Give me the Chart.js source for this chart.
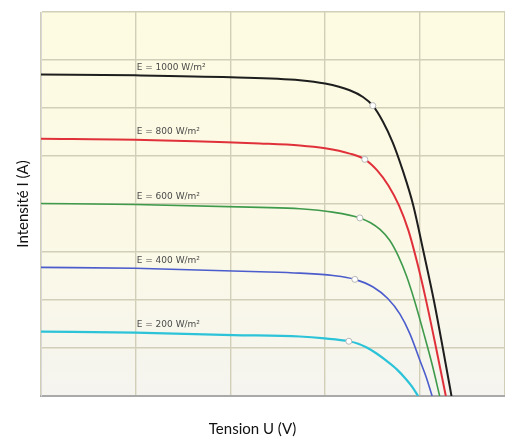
<!DOCTYPE html>
<html>
<head>
<meta charset="utf-8">
<script src="https://cdn.jsdelivr.net/npm/chart.js@4"></script>
<style>
  html, body { margin: 0; padding: 0; background: #fff; }
  #wrap { width: 505px; height: 441px; }
</style>
</head>
<body>
<div id="wrap"><canvas id="ivChart"></canvas></div>
<script>
// irradiance labels
const labels = ["E = 1000 W/m²", "E = 800 W/m²", "E = 600 W/m²", "E = 400 W/m²", "E = 200 W/m²"];

// I-V curves (U in V, I in A)
const u1000 = [0, 9.92, 20.05, 27.34, 30.0, 32.6, 34.0, 35.04, 36.1, 37.15, 38.2, 39.3, 40.4, 41.5, 42.45, 43.35];
const i1000 = [6.70, 6.68, 6.64, 6.58, 6.51, 6.37, 6.23, 6.05, 5.72, 5.28, 4.70, 3.98, 3.0, 1.98, 0.98, 0.0];
const u800 = [0, 9.92, 23.11, 27.34, 30.0, 32.6, 34.19, 35.5, 36.7, 37.8, 38.8, 39.7, 40.6, 41.6, 42.75];
const i800 = [5.36, 5.34, 5.26, 5.22, 5.16, 5.05, 4.93, 4.70, 4.38, 3.97, 3.45, 2.80, 2.05, 1.12, 0.0];
const u600 = [0, 9.92, 23.11, 27.34, 30.8, 33.67, 34.8, 35.8, 36.8, 37.7, 38.6, 39.5, 40.4, 41.3, 42.1];
const i600 = [4.01, 3.99, 3.93, 3.90, 3.83, 3.71, 3.61, 3.47, 3.25, 2.93, 2.50, 1.95, 1.32, 0.66, 0.0];
const u400 = [0, 9.92, 23.11, 27.34, 30.82, 33.14, 35.07, 36.62, 37.89, 38.95, 40.0, 40.7, 41.3];
const i400 = [2.68, 2.66, 2.59, 2.56, 2.51, 2.43, 2.27, 2.03, 1.71, 1.30, 0.75, 0.38, 0.0];
const u200 = [0, 9.92, 20.26, 27.34, 29.97, 32.51, 33.5, 34.4, 35.4, 36.5, 37.6, 38.6, 39.2, 39.82];
const i200 = [1.34, 1.32, 1.27, 1.24, 1.20, 1.14, 1.09, 1.01, 0.89, 0.73, 0.55, 0.34, 0.19, 0.0];

// maximum power points
const mppU = [35.04, 34.19, 33.67, 33.14, 32.51];
const mppI = [6.05, 4.93, 3.71, 2.43, 1.14];

const colors = ["#1e1e1e", "#e0313b", "#3f9a4c", "#4b5ccc", "#2cc3d9"];
const widths = [2, 2, 1.6, 1.6, 2.2];

const curves = [[u1000, i1000], [u800, i800], [u600, i600], [u400, i400], [u200, i200]];

const datasets = curves.map(([u, i], k) => ({
  label: labels[k],
  data: u.map((v, n) => ({ x: v, y: i[n] })),
  borderColor: colors[k],
  borderWidth: widths[k],
  pointRadius: 0,
  cubicInterpolationMode: "monotone",
  fill: false,
}));

datasets.push({
  label: "MPP",
  type: "scatter",
  order: -1,
  data: mppU.map((v, n) => ({ x: v, y: mppI[n] })),
  pointRadius: 3,
  pointBackgroundColor: "#ffffff",
  pointBorderColor: "#b8b8b8",
  pointBorderWidth: 1,
});

// pale yellow background of the plot area
const plotBg = {
  id: "plotBg",
  beforeDraw(chart) {
    const { ctx, chartArea: a } = chart;
    const g = ctx.createLinearGradient(0, a.top, 0, a.bottom);
    g.addColorStop(0, "#fdfbe1");
    g.addColorStop(0.6, "#fbf9e6");
    g.addColorStop(1, "#f5f4ef");
    ctx.save();
    ctx.fillStyle = g;
    ctx.fillRect(a.left, a.top, a.right - a.left, a.bottom - a.top);
    ctx.restore();
  },
};

// "E = ... W/m²" text above each curve
const curveLabels = {
  id: "curveLabels",
  afterDatasetsDraw(chart) {
    const { ctx, scales } = chart;
    ctx.save();
    ctx.font = "9px 'DejaVu Sans'";
    ctx.fillStyle = "#4a4a4a";
    ctx.textBaseline = "middle";
    curves.forEach(([u, i], k) => {
      const px = scales.x.getPixelForValue(10.1);
      const py = scales.y.getPixelForValue(i[1]) - 8;
      ctx.fillText(labels[k], px, py);
    });
    ctx.restore();
  },
};

new Chart(document.getElementById("ivChart"), {
  type: "line",
  data: { datasets },
  plugins: [plotBg, curveLabels],
  options: {
    responsive: true,
    maintainAspectRatio: false,
    animation: false,
    layout: { autoPadding: false, padding: { top: 12, left: 0, right: 0, bottom: 0 } },
    plugins: {
      legend: { display: false },
      tooltip: { enabled: false },
      title: {
        display: true,
        position: "bottom",
        text: "Tension U (V)",
        color: "#111",
        font: { family: "Lato", size: 15, weight: "normal" },
        padding: { top: 24, bottom: 3 },
      },
    },
    scales: {
      x: {
        type: "linear",
        min: 0,
        max: 49,
        ticks: { display: false, stepSize: 10 },
        grid: { color: "#d2cfb8", lineWidth: 1.4, drawTicks: false },
        border: { color: "#a9a9a9", width: 2 },
      },
      y: {
        min: 0,
        max: 8,
        ticks: { display: false, stepSize: 1 },
        grid: { color: "#d2cfb8", lineWidth: 1.4, drawTicks: false },
        border: { color: "#d8d8d8", width: 1 },
        title: {
          display: true,
          text: "Intensité I (A)",
          color: "#111",
          font: { family: "Lato", size: 15, weight: "normal" },
          padding: { top: 14, bottom: 9 },
        },
      },
    },
  },
});
</script>
</body>
</html>
